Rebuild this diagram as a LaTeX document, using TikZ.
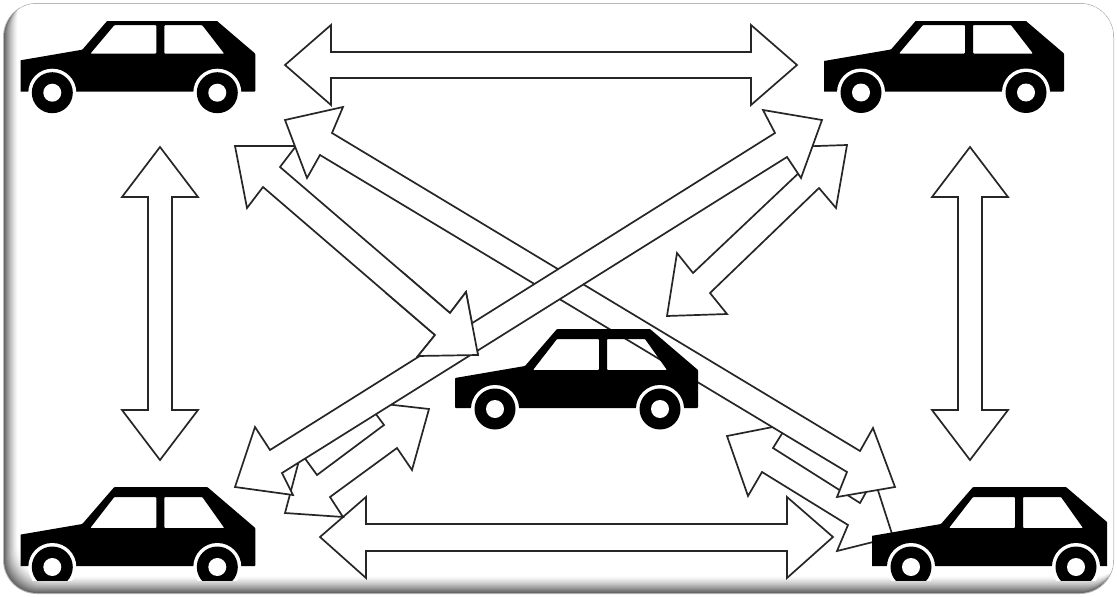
\documentclass[tikz,border=0pt]{standalone}
\tikzset{
  x=1pt,y=-1pt,
  arrowbox/.style={draw=black!85,fill=white,line width=1.7pt,line join=miter,miter limit=6},
  car/.pic={
    \fill[black,even odd rule,rounded corners=0.8pt]
      (-40,-31) -- (30,-43) -- (62,-80) -- (155,-80) -- (203,-39) -- (203,-1) -- (-40,-1) -- cycle
      (38,-39) -- (62,-#1) -- (104,-#1) -- (104,-39) -- cycle
      (112,-39) -- (112,-#1) -- (150,-#1) -- (172,-39) -- cycle;
    \foreach \wx in {0,165}{
      \fill[white] (\wx,0) circle[radius=24];
      \fill[black] (\wx,0) circle[radius=20.5];
      \fill[white] (\wx,0) circle[radius=9];
    }
  }
}
\newcommand{\polyF}{(235,146) -- (296,146) -- (280,167) -- (450,313) -- (466,292) -- (478,355) -- (418,356) -- (435,335) -- (263,187) -- (247,208) -- cycle}
\begin{document}
\begin{tikzpicture}
\useasboundingbox (0,0) rectangle (1117,597);
% frame with bevel on the left and bottom
\fill[white] (0,0) rectangle (1117,597);
\fill[black!28,rounded corners=34pt] (3,3) rectangle (1114,594);
\begin{scope}
  \clip[rounded corners=33pt] (4,4) rectangle (1113,593);
  \foreach \i in {0,...,18}{
    \pgfmathsetmacro{\t}{\i/18}
    \pgfmathsetmacro{\shade}{100-60*(1-\t)^1.4}
    \pgfmathsetmacro{\lft}{4+14*\t}
    \pgfmathsetmacro{\rgt}{1113+14*\t}
    \pgfmathsetmacro{\tp}{4-17*\t}
    \pgfmathsetmacro{\bot}{593-17*\t}
    \fill[white!\shade!black,rounded corners=33pt] (\lft,\tp) rectangle (\rgt,\bot);
  }
\end{scope}
% horizontal and vertical arrows
\draw[arrowbox] (285,65) -- (331,25) -- (331,52) -- (751,52) -- (751,25) -- (797,65) -- (751,105) -- (751,78) -- (331,78) -- (331,105) -- cycle;
\draw[arrowbox] (320,537) -- (366,497) -- (366,524) -- (787,524) -- (787,497) -- (833,537) -- (787,578) -- (787,551) -- (366,551) -- (366,578) -- cycle;
\draw[arrowbox] (160,147) -- (198,197) -- (172,197) -- (172,410) -- (198,410) -- (160,460) -- (122,410) -- (148,410) -- (148,197) -- (122,197) -- cycle;
\draw[arrowbox] (970,147) -- (1008,197) -- (982,197) -- (982,410) -- (1008,410) -- (970,460) -- (932,410) -- (958,410) -- (958,197) -- (932,197) -- cycle;
% short diagonal arrows, lying under the long ones
\draw[arrowbox] (429,409) -- (367,402) -- (384,425) -- (317,475) -- (301,453) -- (285,513) -- (343,517) -- (330,497) -- (397,448) -- (412,470) -- cycle;
\draw[arrowbox] (727,436) -- (788,424) -- (773,448) -- (860,503) -- (874,478) -- (893,537) -- (837,551) -- (848,525) -- (762,472) -- (748,496) -- cycle;
\draw[arrowbox] (847,145) -- (788,147) -- (803,169) -- (693,273) -- (677,253) -- (667,316) -- (727,314) -- (710,293) -- (819,188) -- (836,208) -- cycle;
\draw[arrowbox] \polyF;
% long crossing arrows
\draw[arrowbox] (285,120) -- (343,107) -- (332,133) -- (860,451) -- (873,428) -- (895,487) -- (837,497) -- (847,472) -- (320,155) -- (307,178) -- cycle;
\draw[arrowbox] (822,120) -- (763,110) -- (775,133) -- (270,450) -- (255,427) -- (235,487) -- (293,495) -- (282,473) -- (787,157) -- (801,178) -- cycle;
% head of the upper-left arrow lies over the crossing arrow
\begin{scope}
  \clip (385,270) rectangle (500,370);
  \draw[arrowbox] \polyF;
\end{scope}
% cars
\begin{scope}
  \clip (20.5,21) rectangle (256,120);
  \pic at (52.3,92.7) {car=67.5};
\end{scope}
\begin{scope}
  \clip (824,21) rectangle (1065,120);
  \pic at (861,92.5) {car=67.5};
\end{scope}
\pic at (495,409) {car=70};
\begin{scope}
  \clip (20.5,480) rectangle (256,580);
  \pic at (52.3,567) {car=70};
\end{scope}
\begin{scope}
  \clip (872,480) rectangle (1107,580);
  \pic at (911,567) {car=70};
\end{scope}
\end{tikzpicture}
\end{document}
